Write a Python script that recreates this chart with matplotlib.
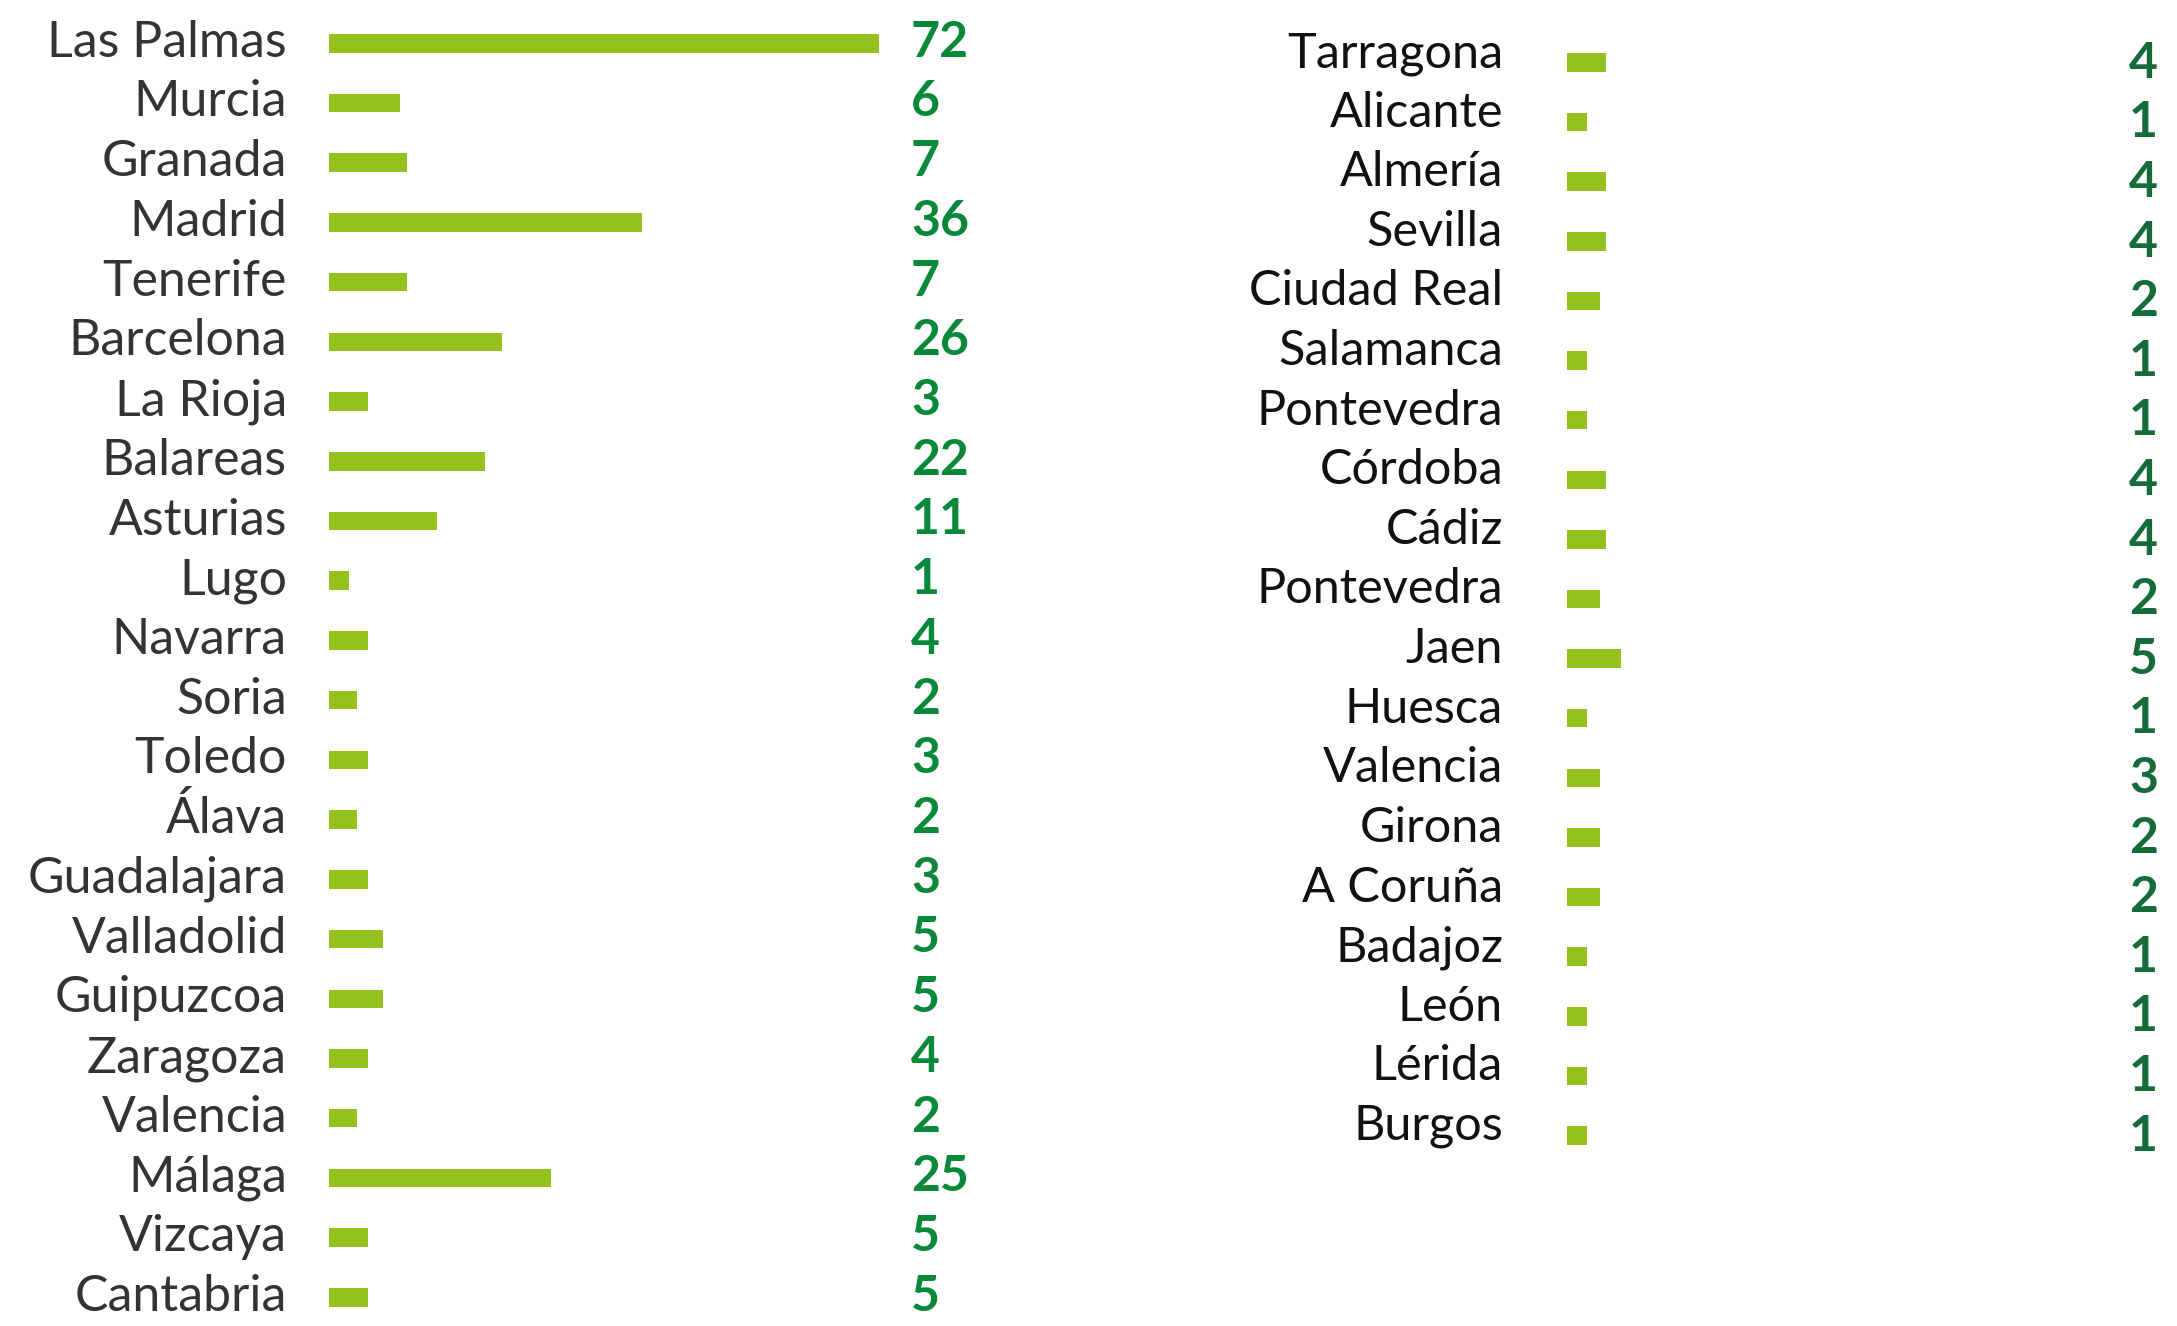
import matplotlib
matplotlib.use("Agg")
import matplotlib.pyplot as plt

# left column: province, count shown, bar length as drawn in the picture
left_names = ["Las Palmas", "Murcia", "Granada", "Madrid", "Tenerife", "Barcelona",
              "La Rioja", "Balareas", "Asturias", "Lugo", "Navarra", "Soria", "Toledo",
              "Álava", "Guadalajara", "Valladolid", "Guipuzcoa", "Zaragoza", "Valencia",
              "Málaga", "Vizcaya", "Cantabria"]
left_counts = [72, 6, 7, 36, 7, 26, 3, 22, 11, 1, 4, 2, 3, 2, 3, 5, 5, 4, 2, 25, 5, 5]
left_bars = [72, 9.3, 10.2, 41, 10.2, 22.6, 5.1, 20.4, 14.1, 2.6, 5.1, 3.7, 5.1,
             3.7, 5.1, 7.1, 7.1, 5.1, 3.7, 29, 5.1, 5.1]

# right column
right_names = ["Tarragona", "Alicante", "Almería", "Sevilla", "Ciudad Real", "Salamanca",
               "Pontevedra", "Córdoba", "Cádiz", "Pontevedra", "Jaen", "Huesca",
               "Valencia", "Girona", "A Coruña", "Badajoz", "León", "Lérida", "Burgos"]
right_counts = [4, 1, 4, 4, 2, 1, 1, 4, 4, 2, 5, 1, 3, 2, 2, 1, 1, 1, 1]
right_bars = [5.1, 2.6, 5.1, 5.1, 4.3, 2.6, 2.6, 5.1, 5.1, 4.3, 7.1, 2.6, 4.3, 4.3,
              4.3, 2.6, 2.6, 2.6, 2.6]

bar_color = "#95c11f"
W, H = 2177, 1326


def pt(px):
    # pixels -> points at dpi 100
    return px * 0.72


def column(rect, names, counts, bars, lab_gap, lab_dy, lab_size, lab_color,
           val_x, val_dy, val_size, val_color, val_ha):
    ax = fig.add_axes(rect)
    n = len(names)
    rows = list(range(n))
    ax.barh(rows, bars, height=0.31, color=bar_color)
    ax.set_xlim(0, 80)
    ax.set_ylim(n - 0.5, -0.5)
    ax.axis("off")
    tr = ax.get_yaxis_transform()
    for i in rows:
        ax.annotate(names[i], xy=(0, i), xycoords=tr, xytext=(pt(-lab_gap), pt(-lab_dy)),
                    textcoords="offset points", ha="right", va="baseline",
                    fontsize=lab_size, color=lab_color, family="Lato")
        ax.annotate(str(counts[i]), xy=(0, i), xycoords=tr, xytext=(pt(val_x), pt(-val_dy)),
                    textcoords="offset points", ha=val_ha, va="baseline",
                    fontsize=val_size, color=val_color, family="Lato", fontweight="bold")
    return ax


fig = plt.figure(figsize=(W / 100, H / 100), dpi=100)

# left axes: bars start at x=329px, 7.64 px per unit, rows 59.7px apart
lx, lw = 329, 7.64 * 80
ltop, lh = 13.4, 22 * 59.72
column([lx / W, (H - ltop - lh) / H, lw / W, lh / H],
       left_names, left_counts, left_bars,
       lab_gap=42, lab_dy=13.5, lab_size=36, lab_color="#333333",
       val_x=582, val_dy=13.4, val_size=36, val_color="#08893a", val_ha="left")

# right axes
rx, rw = 1567, 7.64 * 80
rtop, rh = 32.7, 19 * 59.61
column([rx / W, (H - rtop - rh) / H, rw / W, rh / H],
       right_names, right_counts, right_bars,
       lab_gap=64, lab_dy=4.5, lab_size=35, lab_color="#111111",
       val_x=591, val_dy=15.2, val_size=36, val_color="#156b3a", val_ha="right")

fig.savefig("out.png", dpi=100, facecolor="white")
